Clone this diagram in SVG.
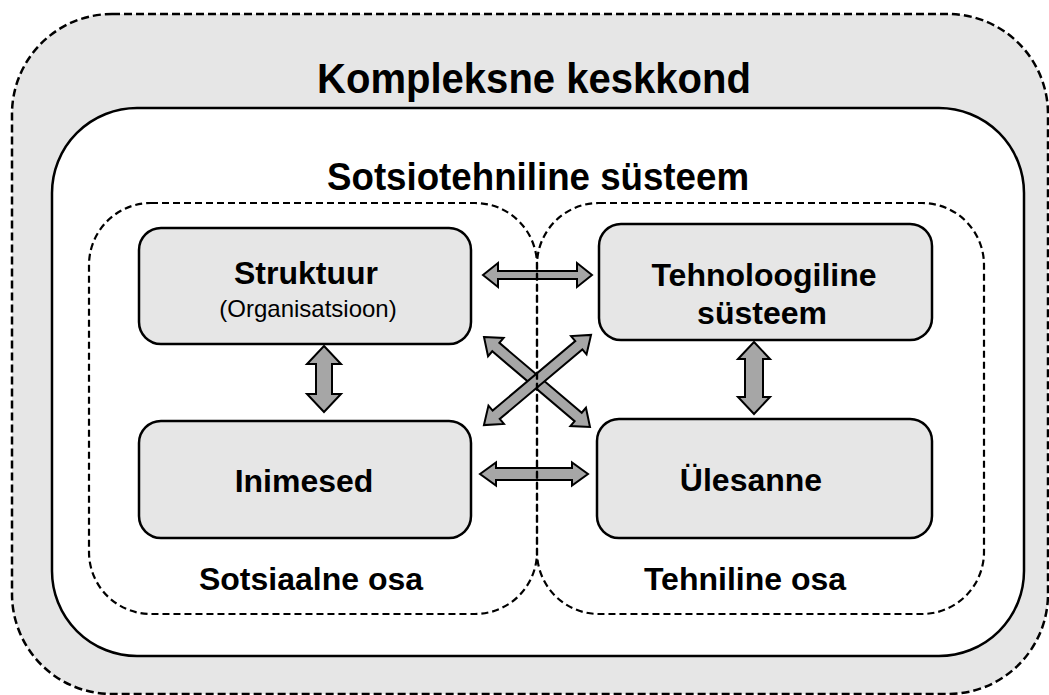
<svg xmlns="http://www.w3.org/2000/svg" width="1049" height="695" viewBox="0 0 1049 695">
  <style>
    .env { fill: #e6e6e6; stroke: #000; stroke-width: 2.5; stroke-dasharray: 8 4; }
    .sys { fill: #fff; stroke: #000; stroke-width: 2.5; }
    .part { fill: none; stroke: #000; stroke-width: 2.2; stroke-dasharray: 7 4; }
    .node { fill: #e6e6e6; stroke: #000; stroke-width: 2.5; }
    .arrow { fill: #a6a6a6; stroke: #000; stroke-width: 2; stroke-linejoin: miter; }
    text { font-family: "Liberation Sans", Arial, sans-serif; fill: #000; text-anchor: middle; }
    .h1 { font-size: 42px; font-weight: bold; }
    .h2 { font-size: 38px; font-weight: bold; }
    .lbl { font-size: 32px; font-weight: bold; }
    .sub { font-size: 24px; }
  </style>

  <!-- complex environment -->
  <g id="environment">
    <rect class="env" x="12" y="14" width="1036" height="680" rx="100" ry="100"/>
    <text class="h1" x="534" y="93" textLength="434" lengthAdjust="spacingAndGlyphs">Kompleksne keskkond</text>
  </g>

  <!-- sociotechnical system -->
  <g id="system">
    <rect class="sys" x="52" y="108" width="972" height="548" rx="85" ry="85"/>
    <text class="h2" x="538" y="190" textLength="422" lengthAdjust="spacingAndGlyphs">Sotsiotehniline süsteem</text>
  </g>

  <!-- double-headed block arrows between the four elements -->
  <g id="connectors">
    <!-- Struktuur <-> Tehnoloogiline süsteem -->
    <path class="arrow" d="M483,275 L498,263 L498,271 L577,271 L577,263 L592,275 L577,287 L577,279 L498,279 L498,287 Z"/>
    <!-- Inimesed <-> Ülesanne -->
    <path class="arrow" d="M480,474 L496,462.5 L496,468 L572,468 L572,462.5 L588,474 L572,485.5 L572,480 L496,480 L496,485.5 Z"/>
    <!-- Struktuur <-> Inimesed -->
    <path class="arrow" d="M324,346 L341,364 L332,364 L332,394 L341,394 L324,412 L307,394 L316,394 L316,364 L307,364 Z"/>
    <!-- Tehnoloogiline süsteem <-> Ülesanne -->
    <path class="arrow" d="M754,342 L770,359 L763,359 L763,397 L770,397 L754,414 L738,397 L745,397 L745,359 L738,359 Z"/>
    <!-- Struktuur <-> Ülesanne -->
    <path class="arrow" transform="translate(537,382) rotate(40.3)" d="M-69.5,0 L-54,-12 L-54,-5.5 L54,-5.5 L54,-12 L69.5,0 L54,12 L54,5.5 L-54,5.5 L-54,12 Z"/>
    <!-- Inimesed <-> Tehnoloogiline süsteem -->
    <path class="arrow" transform="translate(537.5,380) rotate(-40.1)" d="M-70,0 L-54,-12 L-54,-5.5 L54,-5.5 L54,-12 L70,0 L54,12 L54,5.5 L-54,5.5 L-54,12 Z"/>
  </g>

  <!-- social and technical parts -->
  <g id="social-part">
    <rect class="part" x="89" y="203" width="448" height="411" rx="62" ry="62"/>
    <text class="lbl" x="311" y="590">Sotsiaalne osa</text>
  </g>
  <g id="technical-part">
    <rect class="part" x="537" y="203" width="447" height="411" rx="62" ry="62"/>
    <text class="lbl" x="745" y="590">Tehniline osa</text>
  </g>

  <!-- elements -->
  <g id="node-struktuur">
    <rect class="node" x="139" y="228" width="332" height="116" rx="22" ry="22"/>
    <text class="lbl" x="306" y="284">Struktuur</text>
    <text class="sub" x="308" y="317">(Organisatsioon)</text>
  </g>
  <g id="node-inimesed">
    <rect class="node" x="139" y="421" width="332" height="117" rx="22" ry="22"/>
    <text class="lbl" x="304" y="492">Inimesed</text>
  </g>
  <g id="node-tehnoloogiline">
    <rect class="node" x="599" y="224" width="333" height="116" rx="22" ry="22"/>
    <text class="lbl" x="764" y="286">Tehnoloogiline</text>
    <text class="lbl" x="762" y="324">süsteem</text>
  </g>
  <g id="node-ulesanne">
    <rect class="node" x="597" y="419" width="335" height="119" rx="22" ry="22"/>
    <text class="lbl" x="751" y="491">Ülesanne</text>
  </g>
</svg>
